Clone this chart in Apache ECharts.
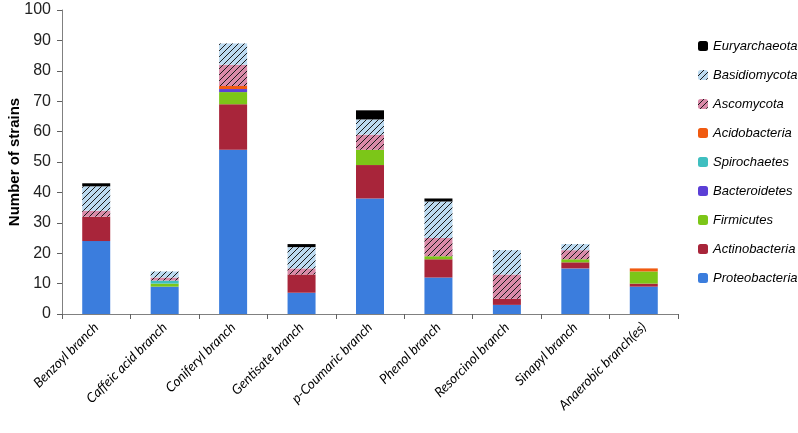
<!DOCTYPE html>
<html><head><meta charset="utf-8">
<script src="https://cdn.jsdelivr.net/npm/echarts@6/dist/echarts.min.js"></script>
<style>html,body{margin:0;padding:0;background:#fff}#c{width:798px;height:433px}</style>
</head><body><div id="c"></div>
<script>
var categories = ["Benzoyl branch","Caffeic acid branch","Coniferyl branch","Gentisate branch","p-Coumaric branch","Phenol branch","Resorcinol branch","Sinapyl branch","Anaerobic branch(es)"];
var proteobacteria = [24, 9, 54, 7, 38, 12, 3, 15, 9];
var actinobacteria = [8, 0, 15, 6, 11, 6, 2, 2, 1];
var firmicutes     = [0, 1, 4, 0, 5, 1, 0, 1, 4];
var bacteroidetes  = [0, 0, 1, 0, 0, 0, 0, 0, 0];
var spirochaetes   = [0, 1, 0, 0, 0, 0, 0, 0, 0];
var acidobacteria  = [0, 0, 1, 0, 0, 0, 0, 0, 1];
var ascomycota     = [2, 1, 7, 2, 5, 6, 8, 3, 0];
var basidiomycota  = [8, 2, 7, 7, 5, 12, 8, 2, 0];
var euryarchaeota  = [1, 0, 0, 1, 3, 1, 0, 0, 0];
var yTicks = [0, 10, 20, 30, 40, 50, 60, 70, 80, 90, 100];

function hatch(bg) {
  var s = 6, c = document.createElement('canvas');
  c.width = s; c.height = s;
  var g = c.getContext('2d');
  g.fillStyle = bg; g.fillRect(0, 0, s, s);
  g.strokeStyle = '#1a1a1a'; g.lineWidth = 1;
  g.beginPath();
  g.moveTo(-1, s + 1); g.lineTo(s + 1, -1);
  g.moveTo(-1, 1); g.lineTo(1, -1);
  g.moveTo(s - 1, s + 1); g.lineTo(s + 1, s - 1);
  g.stroke();
  return { image: c, repeat: 'repeat' };
}

var defs = [
  ["Proteobacteria", proteobacteria, '#3b7ddd'],
  ["Actinobacteria", actinobacteria, '#a8253a'],
  ["Firmicutes", firmicutes, '#7cc618'],
  ["Bacteroidetes", bacteroidetes, '#5b3fd6'],
  ["Spirochaetes", spirochaetes, '#3fbfc0'],
  ["Acidobacteria", acidobacteria, '#f05a10'],
  ["Ascomycota", ascomycota, hatch('#d98aa8')],
  ["Basidiomycota", basidiomycota, hatch('#bcdaf0')],
  ["Euryarchaeota", euryarchaeota, '#000000']
];

var series = defs.map(function (d) {
  return {
    name: d[0], type: 'bar', stack: 'all', barWidth: 28,
    data: d[1], itemStyle: { color: d[2] }, emphasis: { disabled: true }
  };
});

var chart = echarts.init(document.getElementById('c'), null, { renderer: 'canvas' });
chart.setOption({
  animation: false,
  grid: { left: 62, right: 120, top: 10, bottom: 119, containLabel: false, outerBoundsMode: 'none' },
  legend: {
    orient: 'vertical', left: 693, top: 33,
    itemWidth: 10, itemHeight: 10, itemGap: 13,
    data: defs.map(function (d) { return d[0]; }).reverse(),
    textStyle: { fontFamily: 'Liberation Sans', fontStyle: 'italic', fontSize: 13, color: '#000', lineHeight: 16 }
  },
  xAxis: {
    type: 'category', data: categories,
    axisLine: { lineStyle: { color: '#808080' } },
    axisTick: { show: true, length: 5, alignWithLabel: false, lineStyle: { color: '#606060' } },
    axisLabel: { rotate: 45, interval: 0, margin: 11, fontFamily: 'Lato', fontStyle: 'italic', fontSize: 13.5, color: '#000' }
  },
  yAxis: {
    type: 'value', min: 0, max: 100, interval: 10,
    name: 'Number of strains', nameLocation: 'middle', nameGap: 40, nameMoveOverlap: false,
    nameTextStyle: { fontFamily: 'Liberation Sans', fontWeight: 'bold', fontSize: 15, color: '#000' },
    axisLine: { show: true, lineStyle: { color: '#808080' } },
    axisTick: { show: true, length: 5, lineStyle: { color: '#606060' } },
    splitLine: { show: false },
    axisLabel: {
      fontFamily: 'Liberation Sans', fontSize: 16, color: '#222', margin: 11,
      formatter: function (v) { return yTicks.indexOf(v) >= 0 ? String(v) : ''; }
    }
  },
  series: series
});
</script></body></html>
